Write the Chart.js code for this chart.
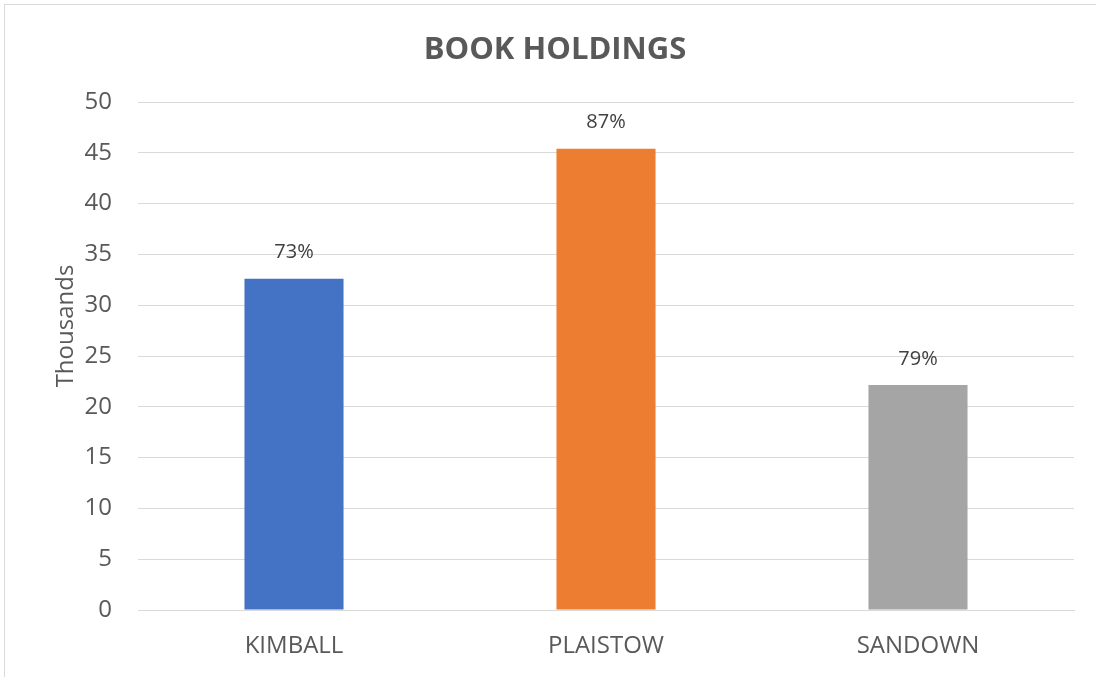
<!DOCTYPE html>
<html><head><meta charset="utf-8">
<script src="https://cdn.jsdelivr.net/npm/chart.js@4/dist/chart.umd.min.js"></script>
<style>
html,body{margin:0;padding:0;background:#fff;}
#wrap{position:absolute;left:0;top:0;width:1096px;height:677px;}
#frame{position:absolute;left:4px;top:4px;width:1200px;height:800px;border:1px solid #d9d9d9;box-sizing:border-box;}
</style></head>
<body>
<div id="wrap"><div id="frame"></div><canvas id="c" width="1096" height="677"></canvas></div>
<script>
const categories = ["KIMBALL", "PLAISTOW", "SANDOWN"];
const holdings = [32.6, 45.4, 22.15];
const percentLabels = ["73%", "87%", "79%"];
const barColors = ["#4472c4", "#ed7d31", "#a5a5a5"];
const yTicks = [0, 5, 10, 15, 20, 25, 30, 35, 40, 45, 50];
const chartTitle = "BOOK HOLDINGS";
const yTitle = "Thousands";

const FONT = "'Open Sans', sans-serif";

const textPlugin = {
  id: 'texts',
  afterDatasetsDraw(chart) {
    const ctx = chart.ctx;
    const meta = chart.getDatasetMeta(0);
    ctx.save();
    ctx.font = "20px " + FONT;
    ctx.fillStyle = "#404040";
    ctx.textAlign = "center";
    ctx.textBaseline = "middle";
    meta.data.forEach((el, i) => {
      ctx.fillText(percentLabels[i], el.x, el.y - 26);
    });
    ctx.restore();
  },
  afterDraw(chart) {
    const ctx = chart.ctx;
    ctx.save();
    ctx.fillStyle = "#595959";
    ctx.textAlign = "center";
    ctx.textBaseline = "middle";
    ctx.font = "bold 31px " + FONT;
    ctx.fillText(chartTitle, 555, 50);
    ctx.translate(66, 326);
    ctx.rotate(-Math.PI / 2);
    ctx.font = "24px " + FONT;
    ctx.fillText(yTitle, 0, 0);
    ctx.restore();
  }
};

new Chart(document.getElementById('c'), {
  type: 'bar',
  data: {
    labels: categories,
    datasets: [{
      data: holdings,
      backgroundColor: barColors,
      categoryPercentage: 0.635,
      barPercentage: 0.5
    }]
  },
  options: {
    responsive: false,
    animation: false,
    layout: { padding: { left: 0, right: 22, top: 102, bottom: 0 } },
    plugins: {
      legend: { display: false },
      tooltip: { enabled: false },
      title: { display: false }
    },
    scales: {
      x: {
        grid: { display: false, drawTicks: false },
        border: { display: true, color: "#d9d9d9", width: 1 },
        ticks: { color: "#595959", font: { family: FONT, size: 24 }, padding: 22 },
        afterFit(s) { s.height = 67; }
      },
      y: {
        min: 0, max: 50,
        afterBuildTicks(s) { s.ticks = yTicks.map(v => ({ value: v })); },
        grid: { color: "#d9d9d9", drawTicks: false },
        border: { display: false },
        ticks: { color: "#595959", font: { family: FONT, size: 24 }, padding: 26 },
        title: { display: false },
        afterFit(s) { s.width = 138; }
      }
    }
  },
  plugins: [textPlugin]
});
</script>
</body></html>
